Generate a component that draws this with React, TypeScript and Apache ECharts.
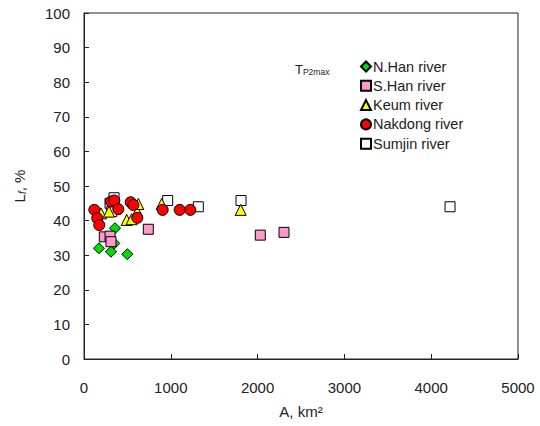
import React, { useEffect, useRef } from "react";
import * as echarts from "echarts";

const xTicks = [0, 1000, 2000, 3000, 4000, 5000];
const yTicks = [0, 10, 20, 30, 40, 50, 60, 70, 80, 90, 100];

const seriesNames = ["N.Han river", "S.Han river", "Keum river", "Nakdong river", "Sumjin river"];

const nHanA = [173, 311, 349, 357, 499];
const nHanL = [32.0, 31.0, 33.4, 37.8, 30.3];

const sHanA = [234, 300, 311, 741, 2031, 2304];
const sHanL = [35.3, 35.5, 33.9, 37.5, 35.8, 36.6];

const keumA = [196, 288, 492, 549, 614, 626, 895, 1805];
const keumL = [42.1, 42.6, 40.2, 40.4, 42.6, 44.8, 44.8, 43.1];

const nakdongA = [119, 153, 176, 311, 349, 395, 538, 568, 614, 906, 1102, 1225];
const nakdongL = [43.1, 40.7, 38.7, 45.5, 45.8, 43.3, 45.3, 44.5, 40.8, 43.1, 43.1, 43.1];

const sumjinA = [300, 319, 346, 964, 1317, 1809, 4217];
const sumjinL = [45.0, 42.6, 46.6, 45.8, 44.0, 45.8, 44.0];

const pairs = (a: number[], b: number[]) => a.map((v, i) => [v, b[i]]);

export default function App() {
  const ref = useRef<HTMLDivElement>(null);
  useEffect(() => {
    if (!ref.current) return;
    const chart = echarts.init(ref.current, undefined, { renderer: "svg" });
    const font = "Liberation Sans, Arial, sans-serif";
    const mk = (name: string, data: number[][], symbol: string, size: number, color: string, z: number) => ({
      name,
      type: "scatter",
      data,
      symbol,
      symbolSize: size,
      z,
      itemStyle: { color, borderColor: "#000", borderWidth: 1, opacity: 1 },
    });
    chart.setOption({
      animation: false,
      backgroundColor: "#fff",
      grid: {
        left: 84,
        right: 22,
        top: 13,
        bottom: 67,
        show: true,
        borderColor: "#222",
        borderWidth: 1,
        backgroundColor: "transparent",
      },
      xAxis: {
        type: "value",
        min: xTicks[0],
        max: xTicks[xTicks.length - 1],
        interval: 1000,
        name: "A, km²",
        nameLocation: "middle",
        nameGap: 45,
        nameTextStyle: { fontSize: 15, color: "#222", fontFamily: font },
        axisLine: { show: true, lineStyle: { color: "#222" } },
        axisTick: { show: true, inside: true, length: 5, lineStyle: { color: "#222" } },
        axisLabel: { fontSize: 15, color: "#222", fontFamily: font, margin: 21, formatter: (v: number) => String(v) },
        splitLine: { show: false },
      },
      yAxis: {
        type: "value",
        min: yTicks[0],
        max: yTicks[yTicks.length - 1],
        interval: 10,
        name: "{a|L}{b|f}{a|, %}",
        nameLocation: "middle",
        nameRotate: 90,
        nameGap: 57,
        nameTextStyle: {
          color: "#222",
          fontFamily: font,
          rich: {
            a: { fontSize: 15, color: "#222", fontFamily: font },
            b: { fontSize: 10, color: "#222", fontFamily: font, fontStyle: "italic", padding: [6, 0, 0, 0] },
          },
        },
        axisLine: { show: true, lineStyle: { color: "#222" } },
        axisTick: { show: true, inside: true, length: 5, lineStyle: { color: "#222" } },
        axisLabel: { fontSize: 15, color: "#222", fontFamily: font, margin: 14 },
        splitLine: { show: false },
      },
      legend: {
        orient: "vertical",
        left: 360,
        top: 59,
        padding: 0,
        itemWidth: 10,
        itemHeight: 10,
        itemGap: 4.3,
        data: seriesNames,
        textStyle: { fontSize: 14.5, color: "#222", fontFamily: font, padding: [0, 0, 0, -3], lineHeight: 15 },
      },
      graphic: [
        {
          type: "text",
          left: 295,
          top: 63,
          style: {
            text: "{a|T}{b|P2max}",
            rich: {
              a: { fontSize: 13, fill: "#222", fontFamily: font },
              b: { fontSize: 8.5, fill: "#222", fontFamily: font, padding: [5, 0, 0, 0] },
            },
          },
        },
      ],
      series: [
        mk(seriesNames[0], pairs(nHanA, nHanL), "diamond", 11, "#00E000", 2),
        mk(seriesNames[1], pairs(sHanA, sHanL), "rect", 10, "#FF99CC", 3),
        mk(seriesNames[2], pairs(keumA, keumL), "triangle", 11, "#FFFF00", 4),
        mk(seriesNames[3], pairs(nakdongA, nakdongL), "circle", 11, "#FF0000", 5),
        mk(seriesNames[4], pairs(sumjinA, sumjinL), "rect", 10, "#FFFFFF", 1),
      ],
    });
    return () => chart.dispose();
  }, []);
  return <div ref={ref} style={{ width: 540, height: 426, position: "absolute", left: 0, top: 0 }} />;
}
